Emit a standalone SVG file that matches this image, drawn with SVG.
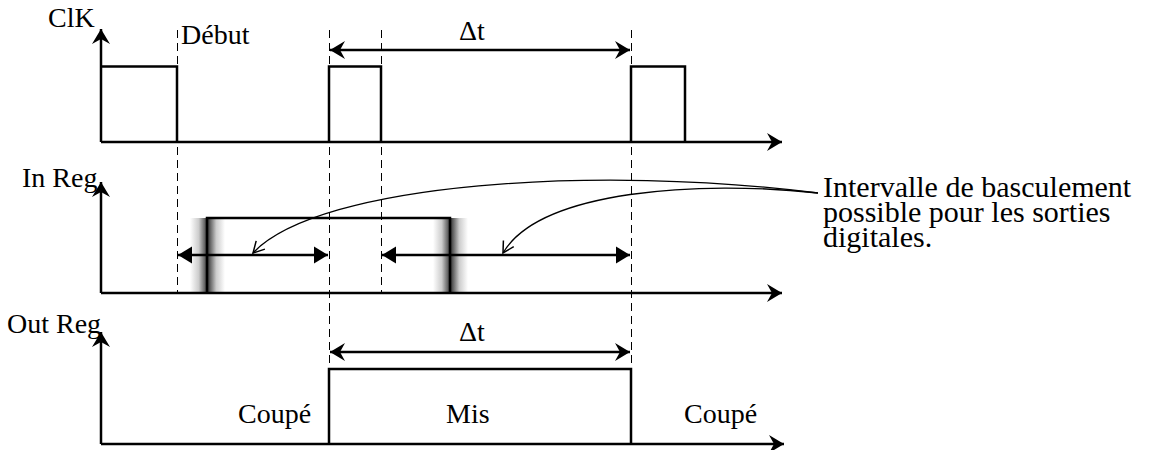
<svg xmlns="http://www.w3.org/2000/svg" width="1150" height="450" viewBox="0 0 1150 450">
<style>
.sig{fill:none;stroke:#000;stroke-width:2.5;stroke-linejoin:miter}
.ax{fill:none;stroke:#000;stroke-width:2.5}
.dash{fill:none;stroke:#000;stroke-width:1;stroke-dasharray:8 5}
.dim{fill:none;stroke:#000;stroke-width:2.5}
.crv{fill:none;stroke:#000;stroke-width:1.3}
text{font-family:"Liberation Serif","Times New Roman",serif;font-size:28px;fill:#000}
.note{font-size:30px}
</style>
<defs>
<marker id="st" viewBox="-16 -10 17 20" refX="0" refY="0" markerWidth="17" markerHeight="20" markerUnits="userSpaceOnUse" orient="auto-start-reverse">
<path d="M0,0 L-15,-9 L-10,0 L-15,9 Z" fill="#000"/>
</marker>
<marker id="tri" viewBox="-15 -9 16 18" refX="0" refY="0" markerWidth="16" markerHeight="18" markerUnits="userSpaceOnUse" orient="auto-start-reverse">
<path d="M0,0 L-14,-8.5 L-14,8.5 Z" fill="#000"/>
</marker>
<marker id="op" viewBox="-13 -8 15 16" refX="0" refY="0" markerWidth="15" markerHeight="16" markerUnits="userSpaceOnUse" orient="auto">
<path d="M-11,-6 L0,0 L-11,6" fill="none" stroke="#000" stroke-width="1.5"/>
</marker>
<linearGradient id="blur" x1="0" y1="0" x2="1" y2="0">
<stop offset="0" stop-color="#fff"/>
<stop offset="0.25" stop-color="#ccc"/>
<stop offset="0.5" stop-color="#333"/>
<stop offset="0.75" stop-color="#ccc"/>
<stop offset="1" stop-color="#fff"/>
</linearGradient>
</defs>

<g id="guides">
<line class="dash" x1="177.5" y1="30" x2="177.5" y2="293"/>
<line class="dash" x1="329.5" y1="30" x2="329.5" y2="369"/>
<line class="dash" x1="381.5" y1="30" x2="381.5" y2="293"/>
<line class="dash" x1="631.5" y1="30" x2="631.5" y2="369"/>
</g>

<g id="clk">
<text x="48" y="27">ClK</text>
<line class="ax" x1="101" y1="142" x2="101" y2="29" marker-end="url(#st)"/>
<line class="ax" x1="101" y1="142" x2="782" y2="142" marker-end="url(#st)"/>
<polyline class="sig" points="101,66.5 177,66.5 177,142"/>
<polyline class="sig" points="329,142 329,66.5 381,66.5 381,142"/>
<polyline class="sig" points="631,142 631,66.5 685,66.5 685,142"/>
<text x="181" y="44">Début</text>
</g>

<g id="inreg">
<text x="22" y="187">In Reg</text>
<rect x="190" y="218" width="35" height="75" fill="url(#blur)"/>
<rect x="433" y="218" width="35" height="75" fill="url(#blur)"/>
<line class="ax" x1="101" y1="293" x2="101" y2="182" marker-end="url(#st)"/>
<line class="ax" x1="101" y1="293" x2="782" y2="293" marker-end="url(#st)"/>
<polyline class="sig" points="207,293 207,218 450,218 450,293"/>
</g>

<g id="outreg">
<text x="7" y="333">Out Reg</text>
<line class="ax" x1="101" y1="444" x2="101" y2="332" marker-end="url(#st)"/>
<line class="ax" x1="101" y1="444" x2="784" y2="444" marker-end="url(#st)"/>
<polyline class="sig" points="329,444 329,369 631,369 631,444"/>
<text x="238" y="423">Coupé</text>
<text x="446" y="423">Mis</text>
<text x="684" y="423">Coupé</text>
</g>

<g id="note">
<text class="note" x="823" y="197">Intervalle de basculement</text>
<text class="note" x="823" y="222">possible pour les sorties</text>
<text class="note" x="823" y="247">digitales.</text>
</g>

<g id="connectors">
<line class="dim" x1="330" y1="50" x2="630" y2="50" marker-start="url(#st)" marker-end="url(#st)"/>
<text x="472" y="40" text-anchor="middle">Δt</text>
<line class="dim" x1="330" y1="352" x2="630" y2="352" marker-start="url(#st)" marker-end="url(#st)"/>
<text x="472" y="341" text-anchor="middle">Δt</text>
<line class="dim" x1="178" y1="255" x2="328" y2="255" marker-start="url(#tri)" marker-end="url(#tri)"/>
<line class="dim" x1="382" y1="255" x2="630" y2="255" marker-start="url(#tri)" marker-end="url(#tri)"/>
<path class="crv" d="M818,193 C600,165 320,182 253,253" marker-end="url(#op)"/>
<path class="crv" d="M818,193 C700,180 540,190 503,253" marker-end="url(#op)"/>
</g>
</svg>
